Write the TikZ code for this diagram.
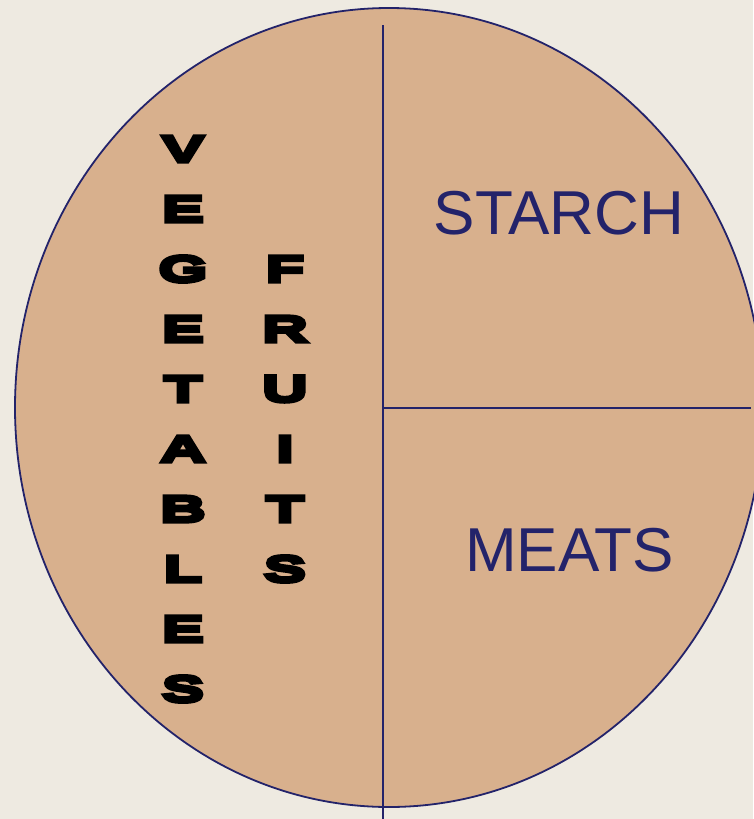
\documentclass[tikz,border=0pt]{standalone}
\usepackage{fontspec}
\usetikzlibrary{shapes.geometric}
\setmainfont{Liberation Sans}
\newfontfamily\blk{Liberation Sans}[UprightFont={* Bold}, FakeBold=10, FakeStretch=1.7]
\definecolor{bg}{HTML}{EEEAE1}
\definecolor{plate}{HTML}{D8B08D}
\definecolor{navy}{HTML}{23236A}
\tikzset{
  lbl/.style={inner sep=0pt, text=black, font=\blk\fontsize{37}{37}\selectfont},
  word/.style={inner sep=0pt, anchor=base, text=navy, font=\fontsize{62}{62}\selectfont},
  divider/.style={draw=navy, line width=2pt}
}
\begin{document}
\begin{tikzpicture}[x=1pt,y=-1pt]
\fill[bg] (0,0) rectangle (753,819);
\useasboundingbox (0,0) rectangle (753,819);
\node[draw=navy, line width=1.8pt, fill=plate, ellipse, minimum width=748pt, minimum height=799pt, inner sep=0pt] (plate) at (389,407.5) {};
\coordinate (vtop) at (383,25);
\coordinate (vbot) at (383,819);
\coordinate (hmid) at (383,408);
\coordinate (hend) at (751,408);
\draw[divider] (vtop) -- (vbot);
\draw[divider] (hmid) -- (hend);
\foreach \ch [count=\i from 0] in {V,E,G,E,T,A,B,L,E,S}
  \node[lbl] (veg\i) at (183,149+60*\i) {\ch};
\foreach \ch [count=\i from 0] in {F,R,U,I,T,S}
  \node[lbl] (fru\i) at (285,269+60*\i) {\ch};
\node[word] (starch) at (559,234) {STARCH};
\node[word] (meats) at (569.5,571) {MEATS};
\end{tikzpicture}
\end{document}
